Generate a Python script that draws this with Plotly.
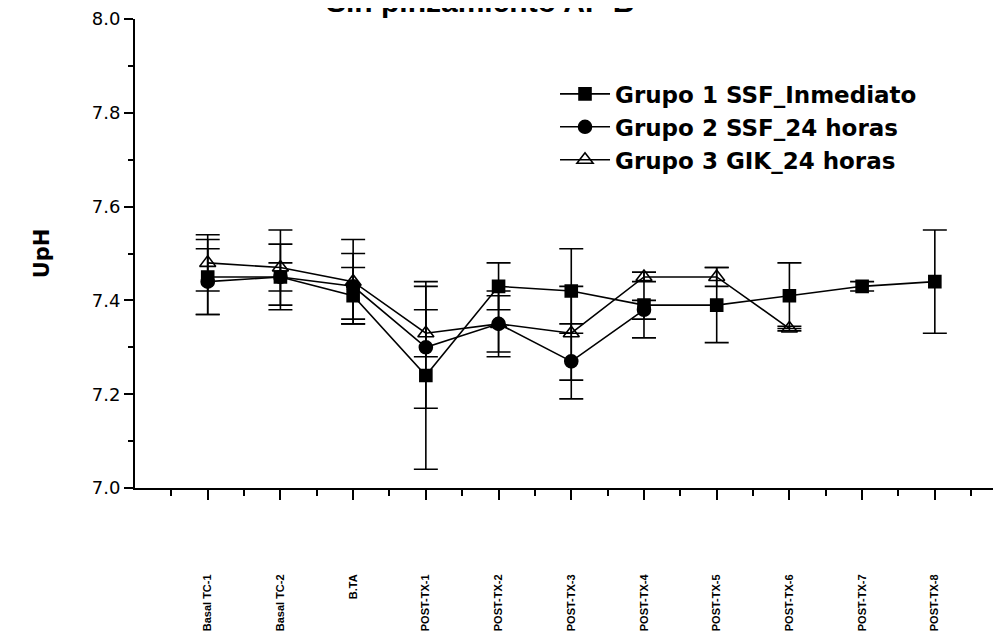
import plotly.graph_objects as go

categories = ["Basal TC-1", "Basal TC-2", "B.TA", "POST-TX-1", "POST-TX-2", "POST-TX-3",
              "POST-TX-4", "POST-TX-5", "POST-TX-6", "POST-TX-7", "POST-TX-8"]
cat_pos = list(range(1, len(categories) + 1))

g1_name = "Grupo 1 SSF_Inmediato"
g1_vals = [7.45, 7.45, 7.41, 7.24, 7.43, 7.42, 7.39, 7.39, 7.41, 7.43, 7.44]
g1_err = [0.08, 0.07, 0.06, 0.20, 0.05, 0.09, 0.07, 0.08, 0.07, 0.01, 0.11]

g2_name = "Grupo 2 SSF_24 horas"
g2_vals = [7.44, 7.45, 7.43, 7.30, 7.35, 7.27, 7.38]
g2_err = [0.07, 0.03, 0.07, 0.13, 0.06, 0.08, 0.02]

g3_name = "Grupo 3 GIK_24 horas"
g3_vals = [7.48, 7.47, 7.44, 7.33, 7.35, 7.33, 7.45, 7.45, 7.34]
g3_err = [0.06, 0.08, 0.09, 0.05, 0.07, 0.10, 0.01, 0.02, 0.005]

y_ticks = [7.0, 7.2, 7.4, 7.6, 7.8, 8.0]
title_text = "Sin pinzamiento AP B"

fig = go.Figure()

def add_group(name, vals, err, symbol, size):
    fig.add_trace(go.Scatter(
        x=cat_pos[:len(vals)], y=vals, name=name, mode="lines+markers",
        line=dict(color="black", width=1.6),
        marker=dict(symbol=symbol, size=size, color="black",
                    line=dict(color="black", width=1.6)),
        error_y=dict(type="data", array=err, visible=True, color="black",
                     thickness=1.6, width=12),
    ))

add_group(g1_name, g1_vals, g1_err, "square", 12)
add_group(g2_name, g2_vals, g2_err, "circle", 13)
add_group(g3_name, g3_vals, g3_err, "triangle-up-open", 14)

# the page body adds an 8px offset, so the figure is sized/placed to compensate
fig.update_layout(
    width=993, height=628,
    margin=dict(l=127, r=0, t=11, b=148),
    paper_bgcolor="white", plot_bgcolor="white",
    font=dict(family="Liberation Sans, Arial", color="black"),
    showlegend=True,
    legend=dict(x=0.485, y=0.886, xanchor="left", yanchor="top",
                bgcolor="rgba(0,0,0,0)",
                font=dict(family="DejaVu Sans", size=23, color="black",
                          weight="bold"),
                itemwidth=50, tracegroupgap=0),
    xaxis=dict(
        range=[0, 11.91], tickmode="array", tickvals=cat_pos, ticktext=categories,
        tickangle=-90, showgrid=False, zeroline=False, automargin=False,
        showline=True, linecolor="black", linewidth=2,
        ticks="outside", ticklen=10, tickwidth=2, tickcolor="black",
        ticklabelstandoff=70,
        tickfont=dict(family="Liberation Sans Narrow, Arial Narrow, Liberation Sans",
                      size=11, color="black", weight="bold"),
        minor=dict(tickvals=[i + 0.5 for i in range(0, 12)], ticks="outside",
                   ticklen=6, tickwidth=2, tickcolor="black"),
    ),
    yaxis=dict(
        range=[7.0, 8.0], tickmode="array", tickvals=y_ticks,
        ticktext=[f"{v:.1f}" for v in y_ticks],
        showgrid=False, zeroline=False, automargin=False,
        showline=True, linecolor="black", linewidth=2,
        ticks="outside", ticklen=9, tickwidth=2, tickcolor="black",
        tickfont=dict(family="DejaVu Sans", size=18, color="black"),
        minor=dict(tickvals=[7.1, 7.3, 7.5, 7.7, 7.9], ticks="outside",
                   ticklen=5, tickwidth=2, tickcolor="black"),
        title=dict(text="UpH", standoff=36,
                   font=dict(family="DejaVu Sans", size=21,
                             color="black", weight="bold")),
    ),
    annotations=[dict(
        text=title_text, xref="paper", yref="paper", x=0.398, y=0.997,
        xanchor="center", yanchor="bottom", showarrow=False,
        font=dict(family="Liberation Sans, Arial", size=30, color="black",
                  weight="bold"),
    )],
)

fig.write_html("out.html")
